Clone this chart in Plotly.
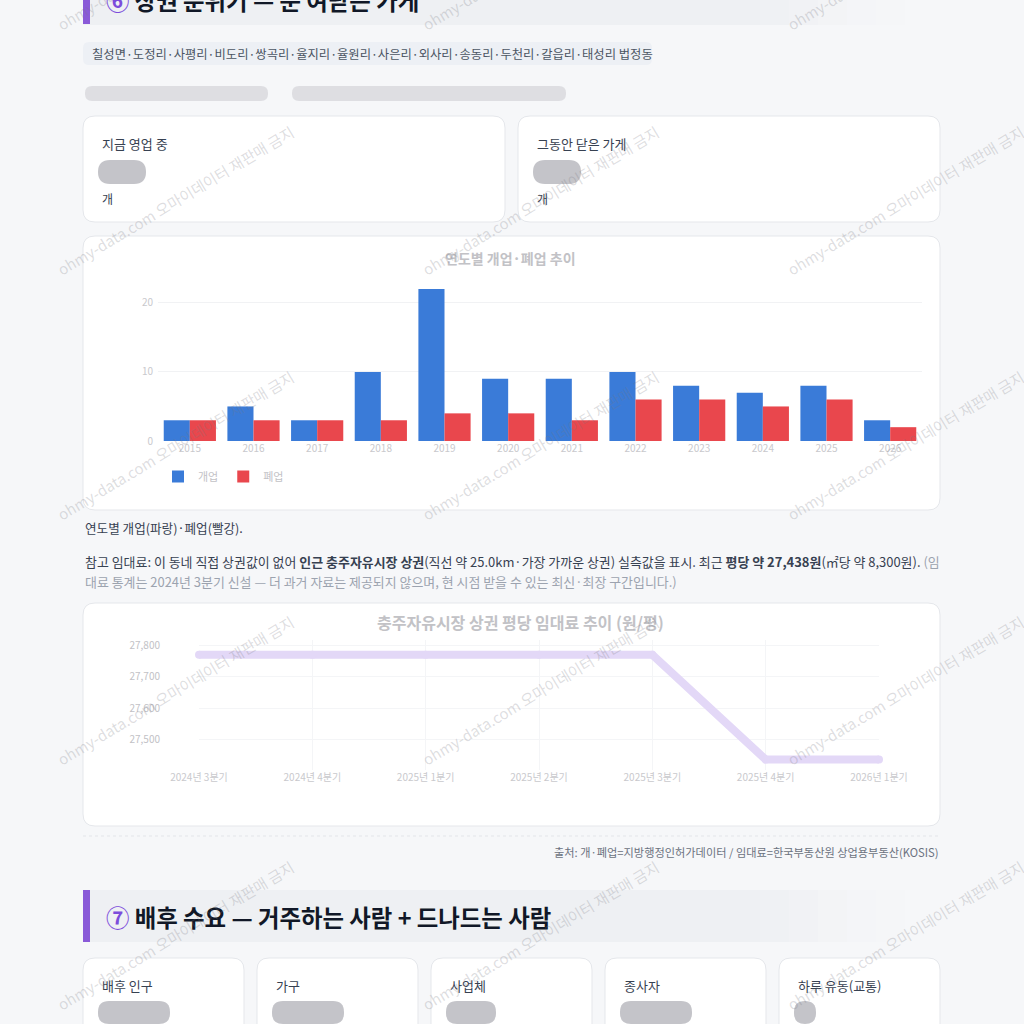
import plotly.graph_objects as go

# ---------------- data ----------------
years = ["2015", "2016", "2017", "2018", "2019", "2020", "2021", "2022", "2023", "2024", "2025", "2026"]
opened = [3, 5, 3, 10, 22, 9, 9, 10, 8, 7, 8, 3]
closed = [3, 3, 3, 3, 4, 4, 3, 6, 6, 5, 6, 2]

quarters = ["2024년 3분기", "2024년 4분기", "2025년 1분기", "2025년 2분기", "2025년 3분기", "2025년 4분기", "2026년 1분기"]
rent_per_pyeong = [27769, 27769, 27769, 27769, 27769, 27438, 27438]
rent_ticks = [27500, 27600, 27700, 27800]
rent_ticktext = ["27,500", "27,600", "27,700", "27,800"]

dong_list = "칠성면·도정리·사평리·비도리·쌍곡리·율지리·율원리·사은리·외사리·송동리·두천리·갈읍리·태성리 법정동"
demand_labels = ["배후 인구", "가구", "사업체", "종사자", "하루 유동(교통)"]

# ---------------- helpers ----------------
W = H = 1024
FONT = "Noto Sans CJK KR, Noto Sans, sans-serif"
BLUE = "#3a7bd8"
RED = "#e9474d"


def px(x):
    return x / W


def py(y):
    return 1 - y / H


def rrect(x0, y0, x1, y1, r, fill, line="rgba(0,0,0,0)", lw=1, layer="below"):
    X0, X1, Y0, Y1, R = px(x0), px(x1), py(y0), py(y1), r / W
    p = (f"M {X0+R},{Y0} L {X1-R},{Y0} Q {X1},{Y0} {X1},{Y0-R} L {X1},{Y1+R} "
         f"Q {X1},{Y1} {X1-R},{Y1} L {X0+R},{Y1} Q {X0},{Y1} {X0},{Y1+R} "
         f"L {X0},{Y0-R} Q {X0},{Y0} {X0+R},{Y0} Z")
    return dict(type="path", path=p, xref="paper", yref="paper", fillcolor=fill,
                line=dict(color=line, width=lw), layer=layer)


def rect(x0, y0, x1, y1, fill, layer="below"):
    return dict(type="rect", xref="paper", yref="paper", x0=px(x0), x1=px(x1),
                y0=py(y1), y1=py(y0), fillcolor=fill, line=dict(width=0), layer=layer)


def txt(x, y, s, size=13, color="#333", anchor="left", angle=0, family=FONT):
    return dict(x=px(x), y=py(y), xref="paper", yref="paper", text=s, showarrow=False,
                xanchor=anchor, yanchor="middle", textangle=angle,
                font=dict(size=size, color=color, family=family))


shapes = []
ann = []

# ---------------- section 6 header (cut at top) ----------------
shapes.append(rect(83, -30, 760, 25, "#eef0f3"))
for i, c in enumerate(["#eff1f4", "#f1f2f5", "#f3f4f6", "#f4f5f8", "#f5f6f8"]):
    shapes.append(rect(760 + i * 29, -30, 789 + i * 29, 25, c))
shapes.append(rect(83, -30, 90, 24, "#8a5ad8"))
ann.append(txt(104, 0, "<b><span style='color:#7c4ddb'>⑥</span> 상권 분위기 — 문 여닫는 가게</b>",
               size=23.4, color="#111827"))

# tag pill
shapes.append(rrect(83, 42, 652, 65, 6, "#edf0f5"))
ann.append(txt(90, 53.5, dong_list, size=12.3, color="#4b5563"))

# blurred summary line (hidden content)
shapes.append(rrect(85, 86, 268, 101, 7, "#dedee2"))
shapes.append(rrect(292, 86, 566, 101, 7, "#dedee2"))

# ---------------- two stat cards ----------------
shapes.append(rrect(83, 116, 505, 222, 12, "#ffffff", line="#e5e7eb"))
shapes.append(rrect(518, 116, 940, 222, 12, "#ffffff", line="#e5e7eb"))
ann.append(txt(100, 143, "지금 영업 중", size=13, color="#374151"))
ann.append(txt(535, 143, "그동안 닫은 가게", size=13, color="#374151"))
shapes.append(rrect(98, 160, 146, 184, 12, "#c4c4c9"))
shapes.append(rrect(533, 160, 581, 184, 12, "#c4c4c9"))
ann.append(txt(100, 198, "개", size=12, color="#374151"))
ann.append(txt(535, 198, "개", size=12, color="#374151"))

# ---------------- bar chart card ----------------
shapes.append(rrect(83, 236, 940, 510, 12, "#ffffff", line="#e5e7eb"))
ann.append(txt(510, 258, "<b>연도별 개업·폐업 추이</b>", size=14, color="#c2c2c6", anchor="center"))

ann.append(txt(83, 527, "연도별 개업(파랑)·폐업(빨강).", size=12.6, color="#374151"))
ann.append(txt(83, 561,
               "참고 임대료: 이 동네 직접 상권값이 없어 <b>인근 충주자유시장 상권</b>(직선 약 25.0km·가장 가까운 상권) "
               "실측값을 표시. 최근 <b>평당 약 27,438원</b>(㎡당 약 8,300원). <span style='color:#9ca3af'>(임</span>",
               size=12.95, color="#374151"))
ann.append(txt(83, 581,
               "대료 통계는 2024년 3분기 신설 — 더 과거 자료는 제공되지 않으며, 현 시점 받을 수 있는 최신·최장 구간입니다.)",
               size=12.95, color="#9ca3af"))

# ---------------- line chart card ----------------
shapes.append(rrect(83, 603, 940, 826, 12, "#ffffff", line="#e5e7eb"))
ann.append(txt(520, 622, "<b>충주자유시장 상권 평당 임대료 추이 (원/평)</b>", size=16, color="#c2c2c6",
               anchor="center"))

# dashed separator + source
shapes.append(dict(type="line", xref="paper", yref="paper", x0=px(83), x1=px(940), y0=py(836), y1=py(836),
                   line=dict(color="#e3e5e9", width=1, dash="dot"), layer="below"))
ann.append(txt(940, 852, "출처: 개·폐업=지방행정인허가데이터 / 임대료=한국부동산원 상업용부동산(KOSIS)",
               size=11.2, color="#6b7280", anchor="right"))

# ---------------- section 7 header ----------------
shapes.append(rect(83, 890, 760, 942, "#eef0f3"))
for i, c in enumerate(["#eff1f4", "#f1f2f5", "#f3f4f6", "#f4f5f8", "#f5f6f8"]):
    shapes.append(rect(760 + i * 29, 890, 789 + i * 29, 942, c))
shapes.append(rect(83, 890, 90, 942, "#8a5ad8"))
ann.append(txt(104, 917, "<b><span style='color:#7c4ddb'>⑦</span> 배후 수요 — 거주하는 사람 + 드나드는 사람</b>",
               size=23.4, color="#111827"))

# five cards
card_x = [(83, 244), (257, 418), (431, 592), (605, 766), (779, 940)]
blob_w = [72, 72, 50, 72, 22]
for (x0, x1), lab, bw in zip(card_x, demand_labels, blob_w):
    shapes.append(rrect(x0, 958, x1, 1060, 12, "#ffffff", line="#e5e7eb"))
    ann.append(txt(x0 + 17, 985, lab, size=13, color="#374151"))
    shapes.append(rrect(x0 + 15, 1001, x0 + 15 + bw, 1024, 11, "#c4c4c9"))

# ---------------- watermarks ----------------
for cy in [-45, 200, 445, 690, 935]:
    for cx in [175, 540, 905]:
        ann.append(txt(cx, cy, "ohmy-data.com 오마이데이터 재판매 금지", size=15,
                       color="rgba(120,120,130,0.25)", anchor="center", angle=-31))

# ---------------- traces ----------------
fig = go.Figure()
fig.add_trace(go.Bar(x=years, y=opened, name="개업", marker=dict(color=BLUE, line=dict(width=0)),
                     xaxis="x", yaxis="y"))
fig.add_trace(go.Bar(x=years, y=closed, name="폐업", marker=dict(color=RED, line=dict(width=0)),
                     xaxis="x", yaxis="y"))
fig.add_trace(go.Scatter(x=quarters, y=rent_per_pyeong, mode="lines+markers", showlegend=False,
                         line=dict(color="#e3d8f7", width=8), marker=dict(color="#e3d8f7", size=8),
                         cliponaxis=False, xaxis="x2", yaxis="y2"))

fig.update_layout(
    width=W, height=H, autosize=False, margin=dict(l=0, r=0, t=0, b=0, pad=0),
    paper_bgcolor="#f6f7f9", plot_bgcolor="rgba(0,0,0,0)",
    font=dict(family=FONT, color="#374151"),
    barmode="group", bargap=0.18, bargroupgap=0,
    xaxis=dict(domain=[px(158), px(922)], type="category", showgrid=False, zeroline=False,
               ticks="", tickfont=dict(size=10, color="#c9c9cd"), anchor="y", showline=False,
               automargin=False),
    yaxis=dict(domain=[py(441), py(289)], range=[0, 22], tickvals=[0, 10, 20],
               ticktext=["0", "10", "20"], showgrid=True, gridcolor="#f1f2f4", zeroline=False,
               tickfont=dict(size=10, color="#c9c9cd"), anchor="x", ticklabelstandoff=4,
               automargin=False),
    xaxis2=dict(domain=[px(199), px(879)], type="category", range=[0, 6], showgrid=True,
                gridcolor="#f4f5f7", zeroline=False, ticks="", anchor="y2",
                tickfont=dict(size=10, color="#c9c9cd"), automargin=False),
    yaxis2=dict(domain=[py(770), py(640)], range=[27405, 27816], tickvals=rent_ticks,
                ticktext=rent_ticktext, showgrid=True, gridcolor="#f4f5f7", zeroline=False,
                tickfont=dict(size=10, color="#c2c2c6"), anchor="x2", ticklabelstandoff=38,
                automargin=False),
    legend=dict(orientation="h", x=px(158), y=py(462), xanchor="left", yanchor="top",
                font=dict(size=11, color="#c2c2c6"), bgcolor="rgba(0,0,0,0)", itemwidth=30),
    shapes=shapes, annotations=ann,
)

fig.write_html("out.html", config={"displayModeBar": False},
               post_script="document.body.style.margin='0';document.body.style.overflow='hidden';")
